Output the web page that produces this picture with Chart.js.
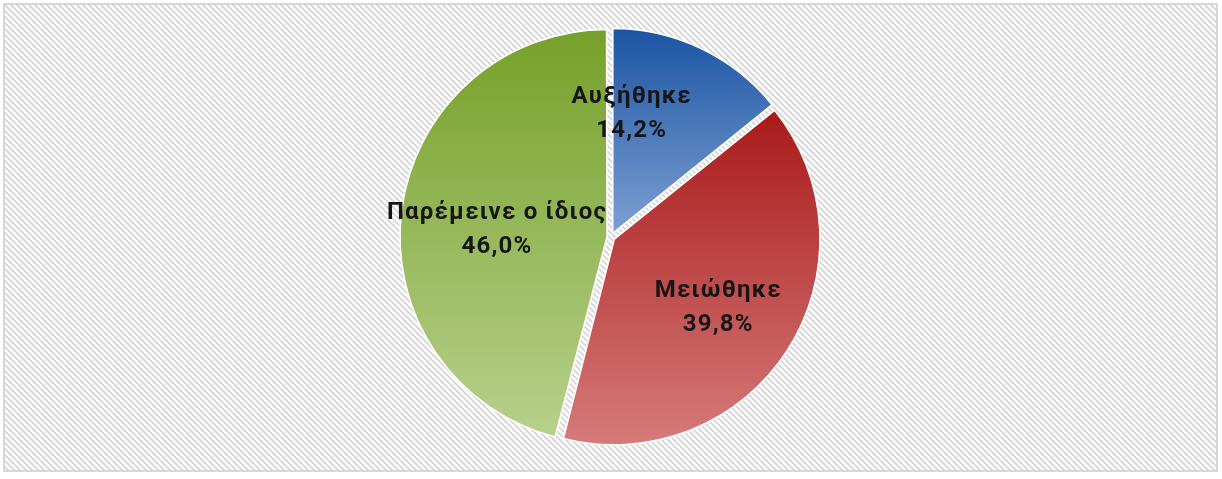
<!DOCTYPE html>
<html>
<head>
<meta charset="utf-8">
<script src="https://cdn.jsdelivr.net/npm/chart.js@4/dist/chart.umd.min.js"></script>
<style>
  html, body { margin: 0; padding: 0; background: #ffffff; }
  #wrap { width: 1222px; height: 479px; }
</style>
</head>
<body>
<div id="wrap"><canvas id="c" width="1222" height="479"></canvas></div>
<script>
// Answer categories and their shares (%)
const categories = ['Αυξήθηκε', 'Μειώθηκε', 'Παρέμεινε ο ίδιος'];
const shares = [14.2, 39.8, 46.0];

// Slice fills: darker at the top of each slice, lighter at the bottom
const topColors = ['#1c54a3', '#a91a1a', '#76a12a'];
const bottomColors = ['#7da0d3', '#d57a7a', '#b7d08b'];

const PIE_RADIUS = 204;

// Label placement inside each slice: fraction of the radius and a small angular nudge (deg)
const labelRadius = [0.61, 0.63, 0.56];
const labelAngleNudge = [-16, 0.7, -3.5];

function formatShare(v) {
  return v.toFixed(1).replace('.', ',') + '%';
}

function sliceGradient(ctx) {
  const chart = ctx.chart;
  const area = chart.chartArea;
  const i = ctx.dataIndex;
  if (!area || i === undefined) return topColors[i || 0];
  const cy = (area.top + area.bottom) / 2;
  const total = shares.reduce((a, b) => a + b, 0);
  let a0 = 0;
  for (let k = 0; k < i; k++) a0 += shares[k] / total * 360;
  const a1 = a0 + shares[i] / total * 360;
  const ys = [cy];
  [a0, a1].forEach(a => ys.push(cy - PIE_RADIUS * Math.cos(a * Math.PI / 180)));
  if (a0 <= 0 || a1 >= 360) ys.push(cy - PIE_RADIUS);
  if (a0 <= 180 && a1 >= 180) ys.push(cy + PIE_RADIUS);
  const y0 = Math.min(...ys), y1 = Math.max(...ys);
  const g = chart.ctx.createLinearGradient(0, y0, 0, y1);
  g.addColorStop(0, topColors[i]);
  g.addColorStop(1, bottomColors[i]);
  return g;
}

// Diagonal hatch tile for the chart background
function makeHatch() {
  const s = 6;
  const t = document.createElement('canvas');
  t.width = s; t.height = s;
  const c = t.getContext('2d');
  c.fillStyle = '#ffffff';
  c.fillRect(0, 0, s, s);
  c.strokeStyle = '#d6d6d6';
  c.lineWidth = 1.9;
  c.beginPath();
  c.moveTo(-s, 0); c.lineTo(s, 2 * s);
  c.moveTo(0, 0); c.lineTo(s, s);
  c.moveTo(0, -s); c.lineTo(2 * s, s);
  c.stroke();
  return t;
}

const backgroundPlugin = {
  id: 'hatchBackground',
  beforeDraw(chart) {
    const ctx = chart.ctx;
    ctx.save();
    ctx.fillStyle = '#ffffff';
    ctx.fillRect(0, 0, chart.width, chart.height);
    ctx.fillStyle = ctx.createPattern(makeHatch(), 'repeat');
    ctx.fillRect(4, 4, 1213, 467);
    ctx.strokeStyle = '#d0d0d0';
    ctx.lineWidth = 1.6;
    ctx.strokeRect(4, 4, 1213, 467);
    ctx.restore();
  }
};

const sliceLabelPlugin = {
  id: 'sliceLabels',
  afterDatasetsDraw(chart) {
    const ctx = chart.ctx;
    const meta = chart.getDatasetMeta(0);
    ctx.save();
    ctx.fillStyle = '#161616';
    ctx.textAlign = 'center';
    ctx.textBaseline = 'middle';
    ctx.font = 'bold 24px Roboto';
    ctx.letterSpacing = '1.2px';
    meta.data.forEach((arc, i) => {
      const mid = (arc.startAngle + arc.endAngle) / 2 + labelAngleNudge[i] * Math.PI / 180;
      const r = arc.outerRadius * labelRadius[i];
      const x = arc.x + Math.cos(mid) * r;
      const y = arc.y + Math.sin(mid) * r;
      ctx.fillText(categories[i], x, y - 17);
      ctx.fillText(formatShare(shares[i]), x, y + 17);
    });
    ctx.restore();
  }
};

new Chart(document.getElementById('c'), {
  type: 'pie',
  data: {
    labels: categories,
    datasets: [{
      data: shares,
      backgroundColor: sliceGradient,
      borderColor: '#ffffff',
      borderWidth: 1.5,
      offset: 16
    }]
  },
  options: {
    responsive: false,
    animation: false,
    radius: PIE_RADIUS,
    layout: { padding: { top: 0, bottom: 5, left: 0, right: 0 } },
    plugins: {
      legend: { display: false },
      tooltip: { enabled: false }
    }
  },
  plugins: [backgroundPlugin, sliceLabelPlugin]
});
</script>
</body>
</html>
